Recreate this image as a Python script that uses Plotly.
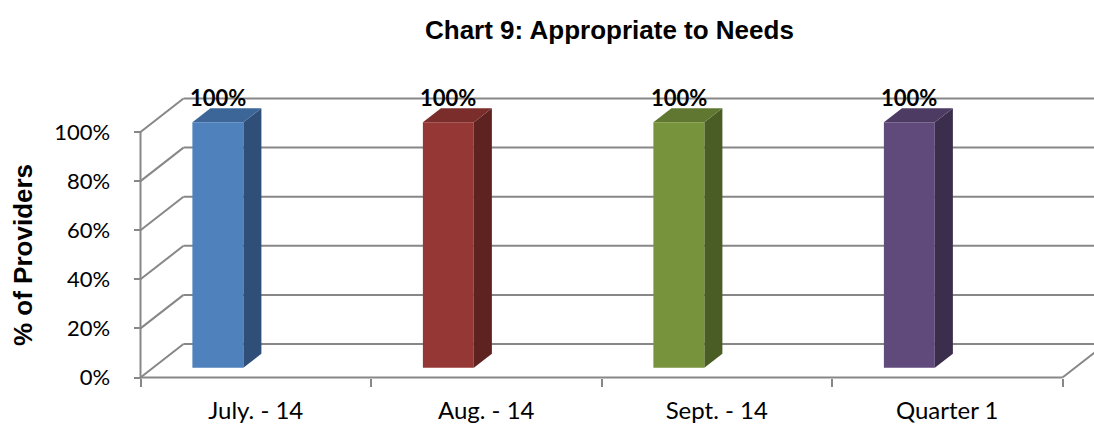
import plotly.graph_objects as go

# ---- data ----
categories = ["July. - 14", "Aug. - 14", "Sept. - 14", "Quarter 1"]
values = [100, 100, 100, 100]
y_ticks = [0, 20, 40, 60, 80, 100]
front_colors = ["#4F81BD", "#953735", "#77933C", "#604A7B"]
top_colors = ["#3C6698", "#7A2D2B", "#5F7730", "#4D3B64"]
side_colors = ["#2F4E78", "#5E2221", "#4A5D25", "#3B2E4D"]

# ---- geometry (data units) ----
W, H = 1094, 424
x_px0, x_scale = 140.5, 230.5     # px of x=0, px per category
y_px0, y_scale = 377.5, 2.455     # px of y=0, px per percent
DX = 43 / x_scale                 # depth offset of back wall
DY = 33.5 / y_scale
f1, f2 = 0.29, 0.71               # bar front/back depth fractions
bx0, bw = 0.171, 0.221            # bar offset / width inside slot
xr = [-x_px0 / x_scale, (W - x_px0) / x_scale]
yr = [(y_px0 - H) / y_scale, y_px0 / y_scale]
grid = "#878787"

fig = go.Figure()
shapes = []
n = len(categories)
# back wall gridlines and depth diagonals
for v in y_ticks:
    shapes.append(dict(type="line", xref="x", yref="y", x0=DX, y0=v + DY, x1=xr[1], y1=v + DY,
                       line=dict(color=grid, width=2), layer="below"))
    shapes.append(dict(type="line", xref="x", yref="y", x0=0, y0=v, x1=DX, y1=v + DY,
                       line=dict(color=grid, width=2), layer="below"))
# front axis line and floor edge
shapes.append(dict(type="line", xref="x", yref="y", x0=0, y0=0, x1=0, y1=max(y_ticks),
                   line=dict(color=grid, width=2), layer="below"))
shapes.append(dict(type="line", xref="x", yref="y", x0=0, y0=0, x1=n, y1=0,
                   line=dict(color=grid, width=2), layer="below"))
shapes.append(dict(type="line", xref="x", yref="y", x0=n, y0=0, x1=n + DX, y1=DY,
                   line=dict(color=grid, width=2), layer="below"))

annotations = []
for i, (cat, v) in enumerate(zip(categories, values)):
    x0 = i + bx0 + DX * f1
    x1 = x0 + bw
    y0 = DY * f1
    y1 = v + DY * f1
    ddx = DX * (f2 - f1)
    ddy = DY * (f2 - f1)
    # side face
    fig.add_trace(go.Scatter(x=[x1, x1 + ddx, x1 + ddx, x1, x1], y=[y0, y0 + ddy, y1 + ddy, y1, y0],
                             fill="toself", fillcolor=side_colors[i], mode="lines",
                             line=dict(width=0, color=side_colors[i]), hoverinfo="skip", showlegend=False))
    # top face
    fig.add_trace(go.Scatter(x=[x0, x1, x1 + ddx, x0 + ddx, x0], y=[y1, y1, y1 + ddy, y1 + ddy, y1],
                             fill="toself", fillcolor=top_colors[i], mode="lines",
                             line=dict(width=0, color=top_colors[i]), hoverinfo="skip", showlegend=False))
    # front face
    fig.add_trace(go.Scatter(x=[x0, x1, x1, x0, x0], y=[y0, y0, y1, y1, y0],
                             fill="toself", fillcolor=front_colors[i], mode="lines",
                             line=dict(width=0, color=front_colors[i]), name=cat,
                             hoverinfo="skip", showlegend=False))
    annotations.append(dict(x=(x0 + x1) / 2, y=y1 + ddy, xref="x", yref="y", text=f"<b>{v}%</b>",
                            showarrow=False, yanchor="middle", yshift=11,
                            font=dict(family="Lato", size=22, color="black")))

annotations.append(dict(x=610 / W, y=1 - 30 / H, xref="paper", yref="paper",
                        text="<b>Chart 9: Appropriate to Needs</b>", showarrow=False,
                        xanchor="center", yanchor="middle",
                        font=dict(family="Liberation Sans", size=26, color="black")))
annotations.append(dict(x=23 / W, y=1 - 255 / H, xref="paper", yref="paper",
                        text="<b>% of Providers</b>", showarrow=False, textangle=-90,
                        xanchor="center", yanchor="middle",
                        font=dict(family="Liberation Sans", size=26, color="black")))

fig.update_layout(
    width=W, height=H, margin=dict(l=0, r=0, t=0, b=0),
    paper_bgcolor="white", plot_bgcolor="white", showlegend=False,
    shapes=shapes, annotations=annotations,
    xaxis=dict(range=xr, anchor="free", position=1 - y_px0 / H, showgrid=False, zeroline=False,
               showline=False, tickmode="array", tickvals=[i + 0.5 for i in range(n)],
               ticktext=categories, ticks="", ticklabelstandoff=16,
               tickfont=dict(family="Lato", size=24, color="black"),
               minor=dict(tickmode="array", tickvals=list(range(n + 1)), ticks="outside",
                          ticklen=8, tickwidth=2, tickcolor=grid, showgrid=False)),
    yaxis=dict(range=yr, anchor="free", position=x_px0 / W, showgrid=False, zeroline=False,
               showline=False, tickmode="array", tickvals=y_ticks,
               ticktext=[f"{t}%" for t in y_ticks], ticks="outside", ticklen=7, tickwidth=2,
               tickcolor=grid, ticklabelstandoff=19,
               tickfont=dict(family="Lato", size=22, color="black")),
)

fig.write_html("out.html", config={"displayModeBar": False},
               post_script="document.body.style.margin='0px';document.body.style.overflow='hidden';")
